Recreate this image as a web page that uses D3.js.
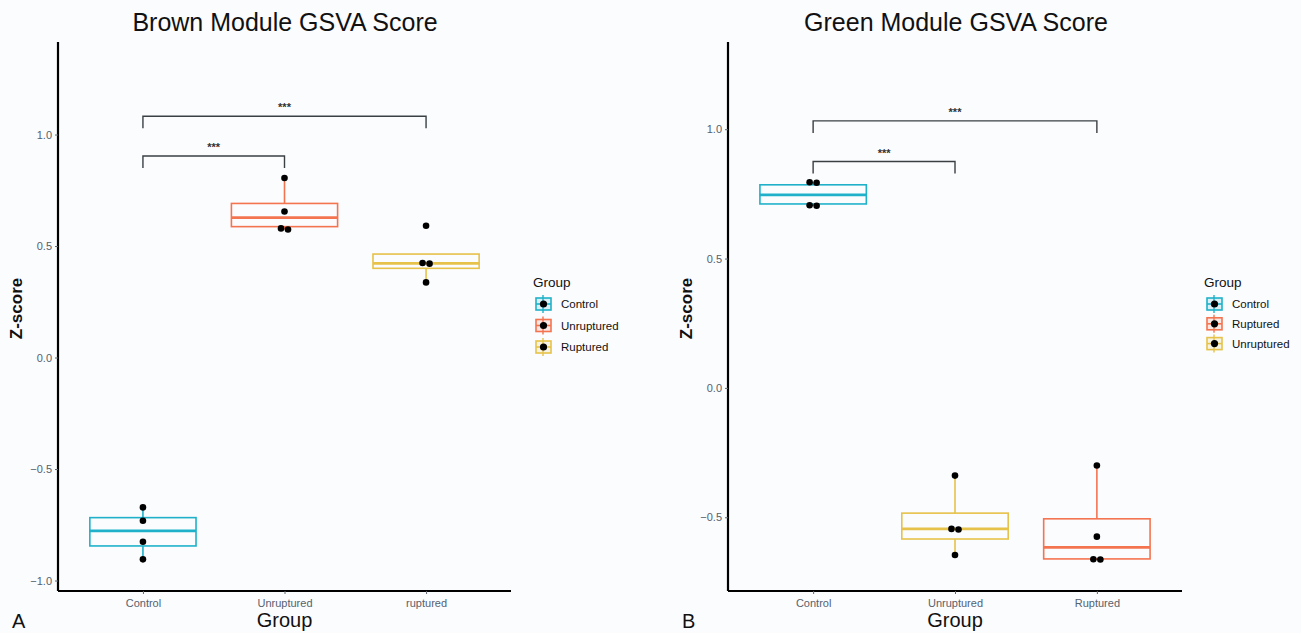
<!DOCTYPE html>
<html>
<head>
<meta charset="utf-8">
<script src="https://cdn.jsdelivr.net/npm/d3@7"></script>
<style>
  body { margin: 0; background: #fbfcfe; }
  svg { display: block; font-family: "Liberation Sans", Arial, sans-serif; }
</style>
</head>
<body>
<script>
// colours follow legend order: first, second, third level
const fillColours = ["#1fb1c9", "#f47450", "#e6c24a"];

// panel A
const brownTitle = "Brown Module GSVA Score";
const brownGroups = ["Control", "Unruptured", "ruptured"];
const brownLegend = ["Control", "Unruptured", "Ruptured"];
const brownColourIdx = [0, 1, 2];
const brownPoints = [
    [-0.672, -0.732, -0.826, -0.905],
    [0.805, 0.655, 0.579, 0.574],
    [0.591, 0.424, 0.421, 0.337]
];
// whisker low, q1, median, q3, whisker high
const brownBoxes = [
    [-0.905, -0.845, -0.777, -0.718, -0.672],
    [0.574, 0.587, 0.627, 0.691, 0.805],
    [0.337, 0.400, 0.422, 0.464, 0.464]
];
const brownTicks = [-1.0, -0.5, 0.0, 0.5, 1.0];
const brownDomain = [-1.047, 1.415];
const brownSigPairs = [[0, 1], [0, 2]];
const brownSigY = [0.904, 1.082];
const brownSigText = ["***", "***"];

// panel B
const greenTitle = "Green Module GSVA Score";
const greenGroups = ["Control", "Unruptured", "Ruptured"];
const greenLegend = ["Control", "Ruptured", "Unruptured"];
const greenColourIdx = [0, 2, 1];
const greenPoints = [
    [0.795, 0.793, 0.706, 0.704],
    [-0.339, -0.545, -0.547, -0.646],
    [-0.300, -0.575, -0.662, -0.663]
];
const greenBoxes = [
    [0.704, 0.711, 0.746, 0.785, 0.795],
    [-0.646, -0.584, -0.545, -0.484, -0.339],
    [-0.663, -0.661, -0.616, -0.506, -0.300]
];
const greenTicks = [-0.5, 0.0, 0.5, 1.0];
const greenDomain = [-0.785, 1.337];
const greenSigPairs = [[0, 1], [0, 2]];
const greenSigY = [0.875, 1.032];
const greenSigText = ["***", "***"];

const W = 1301, H = 633;
const svg = d3.select("body").append("svg")
    .attr("width", W)
    .attr("height", H);

function drawPanel(p) {
    const g = svg.append("g");

    const x = d3.scalePoint()
        .domain(p.groups)
        .range([p.left, p.right])
        .padding(0.6);
    const step = x.step();
    const y = d3.scaleLinear()
        .domain(p.domain)
        .range([p.bottom, p.top]);

    // title
    g.append("text")
        .attr("x", p.titleX)
        .attr("y", 31)
        .attr("text-anchor", "middle")
        .style("font-size", "25px")
        .style("fill", "#111")
        .text(p.title);

    // boxes
    const boxW = step * 0.75;
    p.groups.forEach((grp, i) => {
        const b = p.boxes[i];
        const c = fillColours[p.colourIdx[i]];
        const cx = x(grp);
        g.append("line")
            .attr("x1", cx).attr("x2", cx)
            .attr("y1", y(b[0])).attr("y2", y(b[1]))
            .style("stroke", c).style("stroke-width", 1.6);
        g.append("line")
            .attr("x1", cx).attr("x2", cx)
            .attr("y1", y(b[3])).attr("y2", y(b[4]))
            .style("stroke", c).style("stroke-width", 1.6);
        g.append("rect")
            .attr("x", cx - boxW / 2)
            .attr("y", y(b[3]))
            .attr("width", boxW)
            .attr("height", y(b[1]) - y(b[3]))
            .style("fill", "none")
            .style("stroke", c)
            .style("stroke-width", 1.6);
        g.append("line")
            .attr("x1", cx - boxW / 2).attr("x2", cx + boxW / 2)
            .attr("y1", y(b[2])).attr("y2", y(b[2]))
            .style("stroke", c).style("stroke-width", 2.8);

        // points, nearly equal values get put side by side
        const vals = p.points[i].slice().sort(d3.descending);
        const clusters = [];
        vals.forEach(v => {
            const last = clusters[clusters.length - 1];
            if (last && Math.abs(last[last.length - 1] - v) < 0.015) last.push(v);
            else clusters.push([v]);
        });
        clusters.forEach(cl => {
            cl.forEach((v, k) => {
                const off = (k - (cl.length - 1) / 2) * 7;
                g.append("circle")
                    .attr("cx", cx + off)
                    .attr("cy", y(v))
                    .attr("r", 3.3)
                    .style("fill", "#000");
            });
        });
    });

    // significance brackets
    p.sigPairs.forEach((pr, i) => {
        const x1 = x(p.groups[pr[0]]), x2 = x(p.groups[pr[1]]);
        const yy = y(p.sigY[i]);
        g.append("path")
            .attr("d", `M${x1},${yy + 12}V${yy}H${x2}V${yy + 12}`)
            .style("fill", "none")
            .style("stroke", "#3a3f44")
            .style("stroke-width", 1.4);
        g.append("text")
            .attr("x", (x1 + x2) / 2)
            .attr("y", yy - 5)
            .attr("text-anchor", "middle")
            .style("font-size", "11px")
            .style("font-weight", "bold")
            .style("fill", "#333")
            .text(p.sigText[i]);
    });

    // axes
    const yAxis = g.append("g")
        .attr("transform", `translate(${p.left},0)`)
        .call(d3.axisLeft(y).tickValues(p.ticks).tickFormat(d3.format(".1f")).tickSize(3).tickPadding(3));
    const xAxis = g.append("g")
        .attr("transform", `translate(0,${p.bottom})`)
        .call(d3.axisBottom(x).tickSize(3).tickPadding(4));
    [xAxis, yAxis].forEach(ax => {
        ax.select(".domain").style("stroke", "#000").style("stroke-width", 2.2);
        ax.selectAll(".tick line").style("stroke", "#5a6570");
        ax.selectAll(".tick text")
            .style("fill", "#56616d")
            .style("font-size", "11px")
            .style("font-family", "Liberation Sans, Arial, sans-serif");
    });
    xAxis.select(".domain").attr("d", `M${p.left},0H${p.right}`);
    yAxis.select(".domain").attr("d", `M0,${p.bottom}V${p.top}`);
    xAxis.selectAll(".tick text").attr("dy", "0.85em");

    g.append("text")
        .attr("x", (p.left + p.right) / 2)
        .attr("y", 627)
        .attr("text-anchor", "middle")
        .style("font-size", "20px")
        .style("fill", "#111")
        .text("Group");
    g.append("text")
        .attr("transform", `translate(${p.left - 36},${(p.top + p.bottom) / 2 - 8}) rotate(-90)`)
        .attr("text-anchor", "middle")
        .style("font-size", "17px")
        .style("font-weight", "bold")
        .style("fill", "#111")
        .text("Z-score");
    g.append("text")
        .attr("x", p.left - 46)
        .attr("y", 628)
        .style("font-size", "20px")
        .style("fill", "#111")
        .text(p.tag);

    // legend
    const lg = g.append("g")
        .attr("transform", `translate(${p.right + 22},0)`);
    lg.append("text")
        .attr("x", 0)
        .attr("y", 287)
        .style("font-size", "13.5px")
        .style("fill", "#111")
        .text("Group");
    p.legend.forEach((name, i) => {
        const cy = 304 + i * p.legendStep;
        const c = fillColours[i];
        lg.append("line")
            .attr("x1", 10).attr("x2", 10)
            .attr("y1", cy - 9).attr("y2", cy + 9)
            .style("stroke", c).style("stroke-width", 1.4);
        lg.append("rect")
            .attr("x", 3).attr("y", cy - 6)
            .attr("width", 15).attr("height", 12)
            .style("fill", c).style("fill-opacity", 0.15)
            .style("stroke", c).style("stroke-width", 1.6);
        lg.append("line")
            .attr("x1", 3).attr("x2", 18)
            .attr("y1", cy).attr("y2", cy)
            .style("stroke", c).style("stroke-width", 1.6);
        lg.append("circle")
            .attr("cx", 10.5).attr("cy", cy)
            .attr("r", 3.6)
            .style("fill", "#000");
        lg.append("text")
            .attr("x", 28)
            .attr("y", cy + 4)
            .style("font-size", "11.5px")
            .style("fill", "#111")
            .text(name);
    });
}

drawPanel({
    title: brownTitle, titleX: 285, tag: "A",
    groups: brownGroups, legend: brownLegend, colourIdx: brownColourIdx,
    points: brownPoints, boxes: brownBoxes, ticks: brownTicks, domain: brownDomain,
    sigPairs: brownSigPairs, sigY: brownSigY, sigText: brownSigText,
    left: 58, right: 511, top: 42, bottom: 591, legendStep: 21.5
});

drawPanel({
    title: greenTitle, titleX: 956, tag: "B",
    groups: greenGroups, legend: greenLegend, colourIdx: greenColourIdx,
    points: greenPoints, boxes: greenBoxes, ticks: greenTicks, domain: greenDomain,
    sigPairs: greenSigPairs, sigY: greenSigY, sigText: greenSigText,
    left: 728, right: 1182, top: 42, bottom: 591, legendStep: 19.8
});
</script>
</body>
</html>
